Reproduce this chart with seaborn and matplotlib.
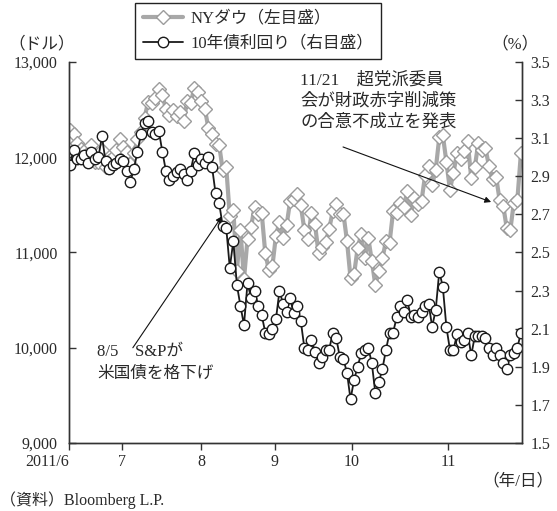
import matplotlib
matplotlib.use("Agg")
import matplotlib.pyplot as plt
import seaborn as sns
import numpy as np
import pandas as pd

sns.set_style("ticks")
plt.rcParams["font.family"] = ["Liberation Serif", "Noto Sans CJK JP", "DejaVu Sans"]

# NY Dow closing values, trading days June - November 2011 (dollars)
dow_jun = [12290, 12248, 12151, 12089, 12070, 12049, 12124, 11952, 11953, 12076, 11898,
           11962, 12004, 12081, 12190, 12110, 12050, 11934, 12043, 12188, 12261, 12414]
dow_jul = [12582, 12570, 12626, 12719, 12657, 12505, 12447, 12492, 12437, 12480,
           12385, 12587, 12572, 12724, 12681, 12593, 12502, 12303, 12241, 12143]
dow_aug = [12133, 11867, 11897, 11384, 11445, 10810, 11240, 10720, 11144, 11270, 11482, 11406,
           11411, 10991, 10818, 10855, 11177, 11321, 11150, 11285, 11540, 11560, 11614]
dow_sep = [11494, 11240, 11140, 11415, 11296, 10992, 11062, 11106, 11247, 11433, 11510,
           11401, 11408, 11125, 10734, 10771, 11044, 11191, 10939, 11154, 10913]
dow_oct = [10655, 10809, 10940, 11123, 11103, 11433, 11416, 11518, 11478, 11644, 11397,
           11577, 11505, 11541, 11809, 11913, 11706, 11869, 12209, 12231, 11955]
dow_nov = [11658, 11836, 12044, 11983, 12069, 12170, 11780, 11894, 12153, 12079, 12096,
           11906, 11771, 11796, 11548, 11493, 11257, 11232, 11524, 11556, 12046]

# US 10-year Treasury yield (%)
yld_jun = [2.96, 3.04, 2.99, 2.99, 3.01, 2.97, 3.03, 2.99, 3.00, 3.11, 2.98,
           2.94, 2.96, 2.97, 2.99, 2.98, 2.93, 2.87, 2.94, 3.03, 3.12, 3.18]
yld_jul = [3.19, 3.13, 3.12, 3.14, 3.03, 2.93, 2.88, 2.90, 2.92, 2.94,
           2.91, 2.88, 2.93, 3.02, 2.96, 2.99, 2.97, 3.00, 2.95, 2.81]
yld_aug = [2.76, 2.64, 2.63, 2.42, 2.56, 2.33, 2.22, 2.12, 2.34, 2.26, 2.30, 2.22,
           2.17, 2.08, 2.07, 2.10, 2.15, 2.30, 2.23, 2.19, 2.26, 2.18, 2.22]
yld_sep = [2.14, 2.00, 1.99, 2.04, 1.98, 1.92, 1.95, 1.99, 1.99, 2.08, 2.05,
           1.95, 1.94, 1.87, 1.73, 1.83, 1.90, 1.97, 1.99, 2.00, 1.92]
yld_oct = [1.76, 1.82, 1.89, 1.99, 2.08, 2.08, 2.16, 2.22, 2.19, 2.25, 2.16,
           2.17, 2.16, 2.19, 2.22, 2.23, 2.11, 2.20, 2.40, 2.32, 2.11]
yld_nov = [1.99, 1.99, 2.07, 2.03, 2.04, 2.08, 1.96, 2.06, 2.06, 2.06, 2.05,
           2.00, 1.96, 2.00, 1.96, 1.92, 1.89, 1.96, 1.97, 2.00, 2.08]

month_tick_pos = [-0.28, 14.6, 36.9, 57.7, 79.4, 106.5]
month_labels = ["2011/6", "7", "8", "9", "10", "11"]
dow_ticks = [9000, 10000, 11000, 12000, 13000]
dow_tick_labels = ["9,000", "10,000", "11,000", "12,000", "13,000"]
yld_ticks = [1.5, 1.7, 1.9, 2.1, 2.3, 2.5, 2.7, 2.9, 3.1, 3.3, 3.5]

dow = dow_jun + dow_jul + dow_aug + dow_sep + dow_oct + dow_nov
yld = yld_jun + yld_jul + yld_aug + yld_sep + yld_oct + yld_nov
df = pd.DataFrame({"day": np.arange(len(dow)), "dow": dow, "yld": yld})

W, H = 557, 511
fig = plt.figure(figsize=(W / 100, H / 100), dpi=100)
ax1 = fig.add_axes([69 / W, 1 - 443 / H, (522 - 69) / W, (443 - 62) / H])
ax2 = ax1.twinx()

sns.lineplot(data=df, x="day", y="dow", ax=ax1, color="#a8a8a8", linewidth=3.0,
             marker="D", markersize=7, markerfacecolor="white",
             markeredgecolor="#9c9c9c", markeredgewidth=1.0, legend=False)
sns.lineplot(data=df, x="day", y="yld", ax=ax2, color="#1a1a1a", linewidth=1.3,
             marker="o", markersize=7.5, markerfacecolor="white",
             markeredgecolor="#1a1a1a", markeredgewidth=1.0, legend=False)

ax1.set_xlim(-0.28, 127.3)
ax1.set_ylim(9000, 13000)
ax2.set_ylim(1.5, 3.5)
for ax in (ax1, ax2):
    ax.set_xlabel("")
    ax.set_ylabel("")
    ax.spines["top"].set_visible(False)
    for s in ax.spines.values():
        s.set_color("#333333")
        s.set_linewidth(1.0)

ink = "#2a2a2a"
ax1.set_xticks(month_tick_pos)
ax1.set_xticklabels(month_labels)
ax1.get_xticklabels()[0].set_horizontalalignment("right")
ax1.set_yticks(dow_ticks)
ax1.set_yticklabels(dow_tick_labels)
ax2.set_yticks(yld_ticks)
ax2.set_yticklabels([f"{v:.1f}" for v in yld_ticks])

ax1.tick_params(axis="x", direction="out", length=5, width=1, color="#333333",
                labelsize=11.5, labelcolor=ink, pad=3)
ax1.tick_params(axis="y", direction="in", length=5, width=1, color="#333333",
                labelsize=11.5, labelcolor=ink, pad=8)
ax2.tick_params(axis="y", direction="in", length=5, width=1, color="#333333",
                labelsize=11.5, labelcolor=ink, pad=6)

# legend above the plotting area
handles = [ax1.lines[0], ax2.lines[0]]
labels = ["NYダウ（左目盛）", "10年債利回り（右目盛）"]
leg = fig.legend(handles, labels, loc="upper left", bbox_to_anchor=(135 / W, 1 - 3 / H),
                 frameon=True, fancybox=False, edgecolor="#222222", framealpha=1,
                 fontsize=12, handlelength=2.4, handletextpad=0.5, borderpad=0.45,
                 labelspacing=0.55, borderaxespad=0)
leg.get_frame().set_linewidth(1.0)
for t in leg.get_texts():
    t.set_color(ink)

# annotations
ax1.text((300 - 69) / 453, (443 - 72) / 381, "11/21　超党派委員\n会が財政赤字削減策\nの合意不成立を発表",
         transform=ax1.transAxes, ha="left", va="top", fontsize=12.5, color=ink,
         linespacing=1.38)
ax1.annotate("", xy=(118.6, 11530), xytext=(76.9, 12108), xycoords="data",
             arrowprops=dict(arrowstyle="-|>", color="#111111", lw=0.8,
                             mutation_scale=9, shrinkA=0, shrinkB=0))
ax2.text((97 - 69) / 453, (443 - 344) / 381, "8/5　S&Pが\n米国債を格下げ",
         transform=ax2.transAxes, ha="left", va="top", fontsize=12, color=ink,
         linespacing=1.5)
ax2.annotate("", xy=(42.8, 2.69), xytext=(17.7, 2.0), xycoords="data",
             arrowprops=dict(arrowstyle="-|>", color="#111111", lw=0.8,
                             mutation_scale=9, shrinkA=0, shrinkB=0))

fig.text(42 / W, 1 - 44 / H, "（ドル）", ha="center", va="center", fontsize=12, color=ink)
fig.text(515 / W, 1 - 44 / H, "（%）", ha="center", va="center", fontsize=12, color=ink)
fig.text(554 / W, 1 - 481 / H, "（年/日）", ha="right", va="center", fontsize=12, color=ink)
fig.text(0 / W, 1 - 500 / H, "（資料）Bloomberg L.P.", ha="left", va="center",
         fontsize=11.5, color=ink)

fig.savefig("out.png", dpi=100)
